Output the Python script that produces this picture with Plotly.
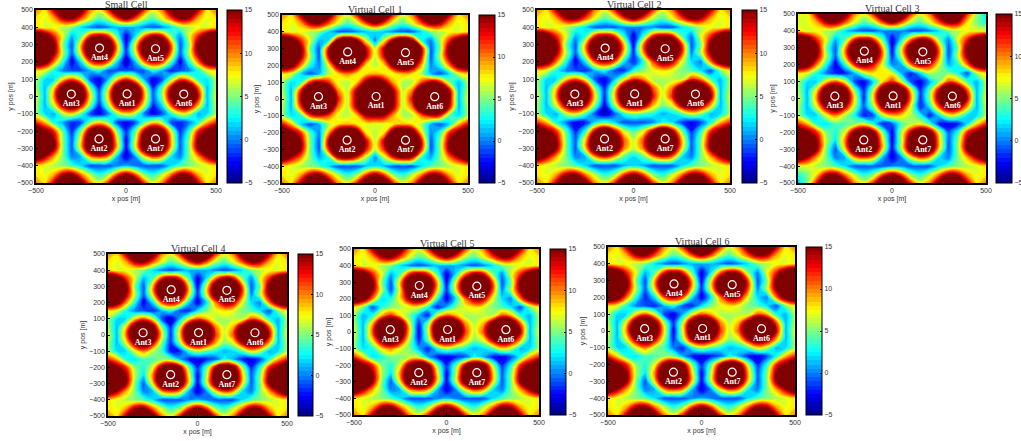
import plotly.graph_objects as go

W, H = 1021, 441
X_POS = [-500 + 50 * i for i in range(21)]
Y_POS = [500 - 50 * i for i in range(21)]

TITLES = ["Small Cell", "Virtual Cell 1", "Virtual Cell 2", "Virtual Cell 3", "Virtual Cell 4", "Virtual Cell 5", "Virtual Cell 6"]
ANT_NAMES = ["Ant1", "Ant2", "Ant3", "Ant4", "Ant5", "Ant6", "Ant7"]
ANT_X = [6, -150, -304, -147, 164, 321, 164]
ANT_Y = [15, -245, 14, 280, 276, 14, -245]
TICKS_Y = list(range(-500, 501, 100))
TICKS_X = [-500, 0, 500]
TICKS_C = [-5, 0, 5, 10, 15]

# rows that look alike in several panels
TOP_500 = [10,8,14,20,22,17,10,7,12,20,22,20,12,7,10,17,22,20,14,8,10]
TOP_450 = [8,7,9,14,15,11,7,4,6,11,15,11,6,4,7,11,15,14,9,7,8]
BOT_450 = [8,7,9,14,15,10,6,3,5,11,15,11,5,3,6,10,15,14,9,7,8]
SC_400 = [8,7,7,6,5,2,0,-1,0,1,1,1,0,-1,0,2,5,6,7,7,8]
SC_350 = [21,18,12,7,1,4,12,15,12,4,-3,2,10,15,13,5,0,7,12,18,21]
SC_300 = [25,23,16,5,-1,9,20,25,20,9,-3,7,18,25,21,11,-1,5,16,23,25]
LOW_300 = [25,22,15,5,-1,8,19,23,19,8,-3,6,17,23,19,8,-1,5,15,22,25]
LOW_350 = [19,14,9,5,0,1,9,11,9,1,-3,0,7,11,9,2,0,5,9,14,19]
LOW_400 = [8,7,6,5,4,2,-1,-1,-1,0,1,0,-1,-1,-1,2,4,5,6,7,8]
MRG_200 = [20,16,12,5,3,7,16,20,16,5,-2,4,14,20,17,6,-2,3,12,16,20]
MRG_250 = [25,22,15,6,2,10,20,25,20,8,-3,6,18,25,21,9,-1,5,15,22,25]
UP_250 = [25,22,15,6,-1,8,19,25,19,8,-2,7,18,25,20,11,0,6,15,22,25]

SMALL_CELL = [
 TOP_500, TOP_450, SC_400, SC_350, SC_300,
 [25,22,15,6,-1,8,19,25,19,8,-2,6,17,25,20,10,-1,6,15,22,25],
 [20,17,10,3,-3,2,11,14,11,2,-4,1,10,14,12,4,-3,3,10,17,20],
 [8,7,3,0,-1,-1,1,3,-1,-1,-1,-1,-1,3,1,-2,-1,0,3,7,8],
 [6,2,2,8,11,7,-1,-3,1,8,12,8,1,-3,-1,5,11,9,3,2,6],
 [6,1,8,18,22,17,5,-2,6,18,22,19,8,-2,4,14,21,20,11,1,6],
 [7,1,10,21,25,19,8,-1,8,20,25,21,10,-1,5,16,23,24,14,1,7],
 [6,1,7,15,18,14,5,-2,5,15,18,15,7,-2,2,11,17,16,9,1,6],
 [6,2,1,6,8,4,-1,-3,0,5,8,6,0,-3,-1,3,7,6,1,2,6],
 [12,9,3,1,-2,-1,5,8,5,-1,-3,-1,4,8,6,-1,-2,0,3,9,12],
 [20,16,12,4,-2,5,16,20,16,5,-2,4,14,20,17,7,-2,3,12,16,20],
 [25,22,15,5,-1,8,20,25,20,8,-3,6,18,25,21,9,-1,5,15,22,25],
 LOW_300, LOW_350, LOW_400, BOT_450, TOP_500,
]

VIRTUAL_1 = [
 TOP_500, TOP_450,
 [8,7,7,6,5,2,-1,-1,0,1,2,1,0,-1,-1,2,5,6,7,7,8],
 [21,18,12,7,1,2,15,20,15,7,0,7,15,20,15,3,0,6,12,18,21],
 [25,23,16,5,-1,13,23,25,23,14,6,14,24,25,23,14,-1,5,16,23,25],
 [25,22,15,6,-1,13,22,25,22,14,6,13,23,25,22,13,-1,6,15,22,25],
 [20,17,10,3,0,7,16,20,16,8,6,8,16,20,17,9,0,3,10,17,20],
 [8,7,2,-1,1,6,8,10,8,8,9,8,7,9,8,6,1,-1,2,7,8],
 [6,2,3,12,15,12,7,6,8,15,19,15,9,6,6,11,15,13,5,1,6],
 [6,1,12,21,24,21,10,6,14,22,25,22,14,6,10,21,24,22,14,1,6],
 [7,1,14,23,25,23,13,6,15,24,25,24,15,6,13,23,25,24,15,1,7],
 [6,1,11,20,23,20,10,6,14,21,24,21,14,6,10,20,23,21,13,1,6],
 [6,2,3,11,13,11,7,6,8,14,15,14,9,6,6,10,13,12,4,2,6],
 [13,9,2,-1,1,6,8,9,8,7,7,7,8,9,8,6,1,-1,2,9,13],
 [20,16,12,4,0,9,18,22,18,8,6,8,18,22,18,8,0,3,12,16,20],
 [25,22,15,5,-1,14,23,25,23,14,6,14,23,25,23,13,-1,5,15,22,25],
 [25,22,15,5,-1,12,21,24,21,13,6,12,21,24,21,12,-1,5,15,22,25],
 [19,14,10,5,1,3,13,15,12,6,0,6,12,15,13,3,1,5,10,14,19],
 [8,7,6,5,4,2,-1,-1,-1,1,2,1,-1,-1,-1,2,4,5,6,7,8],
 BOT_450, TOP_500,
]

VIRTUAL_2 = [
 TOP_500, TOP_450,
 [8,7,7,6,4,2,-1,-1,-1,0,0,0,0,-1,-1,2,4,6,7,7,8],
 [21,18,12,7,1,3,12,15,12,3,-3,3,12,15,13,4,0,7,12,18,21],
 [25,23,16,5,-1,9,20,25,20,9,-3,10,20,25,21,12,-1,5,16,23,25],
 [25,22,15,6,-1,8,19,25,19,8,-2,9,19,25,20,12,0,6,15,22,25],
 [20,17,10,3,-3,2,11,14,11,2,-2,3,11,16,14,7,2,0,10,17,20],
 [8,7,3,0,-1,-2,1,3,-1,-2,3,5,7,8,7,5,4,2,-1,5,8],
 [6,2,2,8,11,7,-1,-3,1,7,12,10,6,6,6,6,12,10,4,1,6],
 [6,1,8,18,22,17,5,-2,6,18,22,20,11,6,10,18,23,20,12,1,6],
 [7,1,10,21,25,19,8,-2,8,20,25,22,13,6,12,20,25,24,15,1,7],
 [6,1,7,15,18,14,5,-3,5,15,18,16,9,5,7,15,18,16,9,1,6],
 [6,2,1,6,8,4,-1,-4,-1,3,5,4,3,1,2,4,7,5,1,2,6],
 [12,9,3,0,-3,-2,2,4,2,-1,-1,-1,0,3,2,-1,-3,-1,3,9,12],
 [20,16,12,4,-2,3,14,20,14,7,4,7,14,20,15,5,-2,3,12,16,20],
 [25,22,15,5,-1,8,20,25,20,11,6,11,20,25,21,9,-1,5,15,22,25],
 [25,22,15,5,-1,8,19,23,19,10,6,10,19,23,19,8,-1,5,15,22,25],
 [19,14,9,5,0,1,9,12,9,4,2,4,9,12,10,2,0,5,9,14,19],
 [8,7,6,5,4,2,-1,-1,-1,1,2,1,-1,-1,-1,2,4,5,6,7,8],
 BOT_450, TOP_500,
]

VIRTUAL_3 = [
 [8,7,14,20,22,17,10,7,12,20,22,20,12,7,10,17,22,20,12,6,2],
 [7,7,9,14,15,11,7,4,6,11,15,11,6,4,7,11,15,14,8,5,3],
 [8,7,7,6,5,2,0,-1,-1,0,0,0,-1,-1,0,2,5,6,7,7,7],
 SC_350,
 [25,23,16,5,-1,9,20,25,20,9,-3,7,18,25,21,10,-1,5,16,23,25],
 [25,22,15,6,-1,9,19,25,19,10,-2,6,17,25,20,10,-1,6,15,22,25],
 [20,17,10,3,-3,3,12,16,13,7,0,1,10,15,13,7,1,3,10,17,20],
 [8,7,3,0,-2,-2,1,6,8,8,7,1,-2,2,6,5,5,3,-1,6,8],
 [6,2,2,8,11,7,-1,-3,2,8,12,7,-1,-3,1,5,11,9,4,1,6],
 [6,1,8,18,22,17,5,-2,6,18,22,19,8,-2,4,14,21,20,11,1,6],
 [7,1,10,21,25,19,8,-2,8,20,25,21,10,-2,5,16,23,24,14,1,7],
 [6,1,7,15,18,14,6,-1,5,15,18,15,7,-2,2,11,17,16,9,1,6],
 [6,2,2,7,10,6,3,-2,-1,6,9,8,6,3,-2,2,7,6,2,2,6],
 [12,9,3,2,4,4,5,7,3,-2,-1,4,6,7,4,-2,-3,-2,2,8,12],
 [20,16,12,5,3,7,16,20,16,5,-3,6,14,20,17,7,-1,3,12,16,20],
 MRG_250, LOW_300, LOW_350,
 [7,7,6,5,4,2,-1,-1,-1,-1,0,0,-1,-1,-1,2,4,5,6,7,8],
 [3,5,8,14,15,10,6,3,5,11,15,11,5,3,6,10,15,14,9,7,8],
 [1,5,13,20,22,17,10,7,12,20,22,20,12,7,10,17,22,20,14,8,10],
]

VIRTUAL_4 = [
 TOP_500, TOP_450, SC_400, SC_350, SC_300, UP_250,
 [20,17,10,3,-3,2,11,14,11,2,-3,2,10,15,14,7,2,0,10,17,20],
 [8,7,3,0,-1,-2,1,3,-1,-2,2,5,7,8,7,5,4,2,-1,5,8],
 [6,2,2,8,11,7,-1,-4,1,7,11,9,6,6,6,6,11,9,3,1,6],
 [6,1,8,18,22,17,5,-2,6,18,22,19,10,6,9,17,22,20,11,1,6],
 [7,1,10,21,25,19,8,-2,8,20,25,21,12,6,11,19,25,24,14,1,7],
 [6,1,7,15,18,14,5,-2,5,15,18,15,9,5,7,14,18,16,9,1,6],
 [6,2,2,7,10,6,4,-2,-2,3,6,4,3,1,2,4,8,6,1,2,6],
 [12,9,3,2,4,4,5,5,1,-2,-3,-2,-1,3,1,-2,-3,-1,3,9,12],
 MRG_200, MRG_250, LOW_300, LOW_350, LOW_400, BOT_450, TOP_500,
]

VIRTUAL_5 = [
 TOP_500, TOP_450, SC_400, SC_350, SC_300, UP_250,
 [20,17,10,2,3,8,15,18,13,3,-3,2,10,15,14,7,2,0,10,17,20],
 [8,5,-1,3,5,6,7,7,3,-2,1,5,7,8,7,5,4,2,-1,5,8],
 [6,1,3,9,12,8,5,1,-2,7,11,9,6,6,6,6,11,9,3,1,6],
 [6,1,9,19,22,19,7,-2,5,18,22,19,10,6,9,17,22,20,11,1,6],
 [7,1,11,22,25,20,8,-3,6,20,25,21,12,6,11,19,25,24,14,1,7],
 [6,1,8,16,19,15,6,-2,4,15,18,15,9,5,7,14,18,16,9,1,6],
 [6,2,3,8,10,7,5,1,-2,3,6,4,3,1,2,4,8,6,1,2,6],
 [12,8,2,3,5,5,6,6,1,-2,-3,-2,-1,3,1,-2,-3,-1,3,9,12],
 MRG_200, MRG_250, LOW_300, LOW_350, LOW_400, BOT_450, TOP_500,
]

VIRTUAL_6 = [
 TOP_500, TOP_450, SC_400, SC_350, SC_300, UP_250,
 [20,17,10,3,-2,2,11,14,11,2,-3,2,10,15,14,7,2,0,10,17,20],
 [8,7,3,0,-1,-2,1,3,-1,-2,2,5,7,8,7,5,4,2,-1,5,8],
 [6,2,2,8,11,7,-1,-3,1,7,11,9,6,6,6,6,11,9,3,1,6],
 [6,1,8,18,22,17,6,-2,6,18,22,19,10,6,9,17,22,20,11,1,6],
 [7,1,10,21,25,19,8,-3,7,20,25,21,12,6,11,19,25,24,14,1,7],
 [6,1,7,15,18,14,6,-2,5,15,18,15,9,5,7,14,18,16,9,1,6],
 [6,2,2,7,10,6,4,0,-2,3,6,4,3,1,2,4,8,6,1,2,6],
 [12,8,3,2,4,4,5,5,1,-2,-3,-2,-1,3,1,-2,-3,-1,3,9,12],
 MRG_200, MRG_250, LOW_300, LOW_350, LOW_400, BOT_450, TOP_500,
]

GRIDS = [SMALL_CELL, VIRTUAL_1, VIRTUAL_2, VIRTUAL_3, VIRTUAL_4, VIRTUAL_5, VIRTUAL_6]
for g in GRIDS:
    assert len(g) == 21 and all(len(r) == 21 for r in g)

# pixel boxes: plot left, right, top, bottom, colourbar left, colourbar width
BOXES = [
 (36, 216, 10, 183, 227, 15),
 (282, 468, 15, 183, 479, 16),
 (537, 730, 10, 183, 742, 15),
 (798, 986, 14, 183, 996, 16),
 (108, 287, 254, 416, 298, 15),
 (354, 539, 249, 415, 550, 16),
 (608, 795, 247, 415, 806, 16),
]

JET = [[0, "#00007f"], [0.125, "#0000ff"], [0.375, "#00ffff"], [0.625, "#ffff00"], [0.875, "#ff0000"], [1, "#7f0000"]]
SANS = "Liberation Sans"
SERIF = "Liberation Serif"
TXT = "#333333"

fig = go.Figure()
layout = dict(width=W, height=H, margin=dict(l=0, r=0, t=0, b=0, autoexpand=False), autosize=False,
              paper_bgcolor="white", plot_bgcolor="white", showlegend=False, annotations=[])

for i, (grid, box, title) in enumerate(zip(GRIDS, BOXES, TITLES)):
    L, R, T, B, CL, CW = box
    n = "" if i == 0 else str(i + 1)
    fig.add_trace(go.Contour(
        x=X_POS, y=Y_POS, z=grid, zmin=-5, zmax=15, colorscale=JET,
        contours=dict(start=-5, end=15, size=0.5, coloring="fill", showlines=False),
        line=dict(width=0, smoothing=1.3),
        xaxis="x" + n, yaxis="y" + n, hoverinfo="skip",
        colorbar=dict(x=CL / W, xanchor="left", xpad=0, ypad=0, y=1 - T / H, yanchor="top",
                      len=(B - T) / H, lenmode="fraction", thickness=CW, thicknessmode="pixels",
                      outlinecolor="black", outlinewidth=1, tickvals=TICKS_C, ticks="inside",
                      ticklen=2, tickcolor="black", tickfont=dict(family=SANS, size=7, color=TXT)),
    ))
    fig.add_trace(go.Scatter(
        x=ANT_X, y=ANT_Y, text=ANT_NAMES, mode="markers+text", textposition="bottom center",
        marker=dict(symbol="circle-open", size=8, color="white", line=dict(color="white", width=1.2)),
        textfont=dict(family=SERIF, size=8, color="white", weight="bold"),
        xaxis="x" + n, yaxis="y" + n, hoverinfo="skip", cliponaxis=False,
    ))
    common = dict(range=[-500, 500], ticks="inside", ticklen=2, tickcolor="black", showgrid=False,
                  zeroline=False, showline=True, linecolor="black", linewidth=1.5, mirror=True,
                  tickfont=dict(family=SANS, size=7, color=TXT))
    layout["xaxis" + n] = dict(common, domain=[L / W, R / W], anchor="y" + n, tickvals=TICKS_X,
                               title=dict(text="x pos [m]", standoff=3, font=dict(family=SANS, size=7, color=TXT)))
    layout["yaxis" + n] = dict(common, domain=[1 - B / H, 1 - T / H], anchor="x" + n, tickvals=TICKS_Y,
                               title=dict(text="y pos [m]", standoff=3, font=dict(family=SANS, size=7, color=TXT)))
    layout["annotations"].append(dict(text=title, xref="paper", yref="paper", x=(L + R) / 2 / W, y=1 - (T + 2) / H,
                                      xanchor="center", yanchor="bottom", showarrow=False,
                                      font=dict(family=SERIF, size=10, color=TXT)))

fig.update_layout(**layout)
fig.write_html("out.html", config={"displayModeBar": False}, post_script="document.body.style.margin='0';")
